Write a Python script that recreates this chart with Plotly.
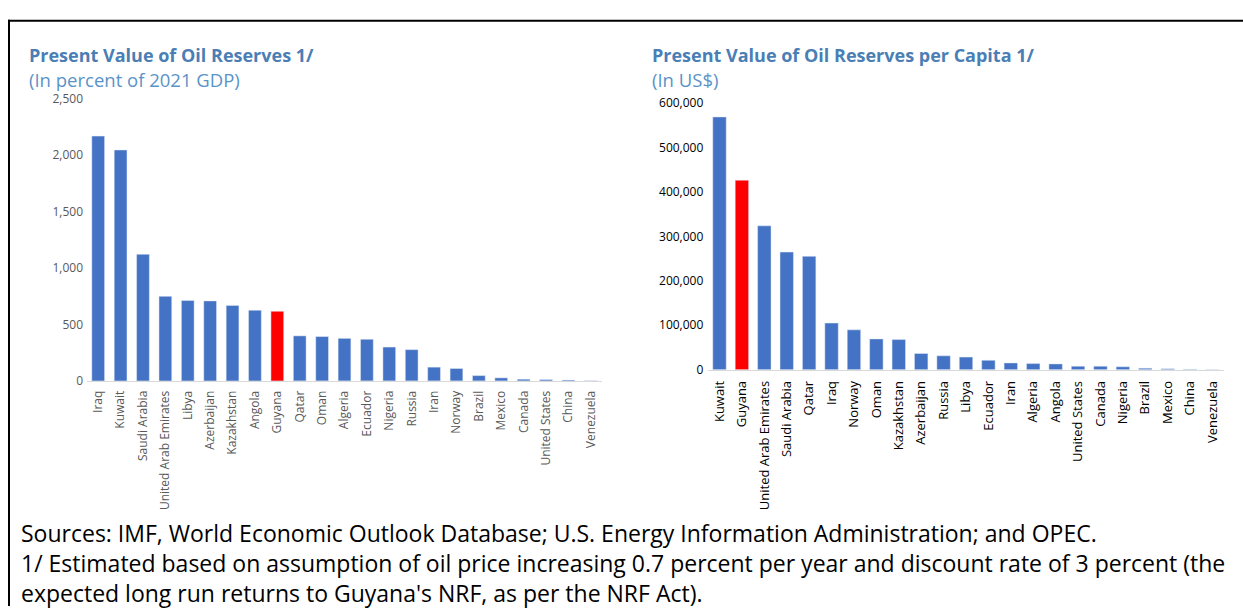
import plotly.graph_objects as go

# Present value of oil reserves, percent of 2021 GDP
gdp_countries = ["Iraq", "Kuwait", "Saudi Arabia", "United Arab Emirates", "Libya",
                 "Azerbaijan", "Kazakhstan", "Angola", "Guyana", "Qatar", "Oman",
                 "Algeria", "Ecuador", "Nigeria", "Russia", "Iran", "Norway", "Brazil",
                 "Mexico", "Canada", "United States", "China", "Venezuela"]
gdp_values = [2169, 2046, 1122, 749, 712, 709, 669, 626, 617, 399, 393,
              377, 369, 300, 277, 122, 110, 47, 27, 15, 12, 8, 2]

# Present value of oil reserves per capita, US$
pc_countries = ["Kuwait", "Guyana", "United Arab Emirates", "Saudi Arabia", "Qatar",
                "Iraq", "Norway", "Oman", "Kazakhstan", "Azerbaijan", "Russia", "Libya",
                "Ecuador", "Iran", "Algeria", "Angola", "United States", "Canada",
                "Nigeria", "Brazil", "Mexico", "China", "Venezuela"]
pc_values = [568700, 426500, 323700, 264700, 255200, 105000, 89700, 69300, 67800,
             36500, 31300, 28400, 21200, 15300, 13800, 13100, 8000, 8000, 6600,
             3600, 2200, 1000, 500]

gdp_ticks = [0, 500, 1000, 1500, 2000, 2500]
pc_ticks = [0, 100000, 200000, 300000, 400000, 500000, 600000]

BLUE = "#4472C4"
RED = "#FF0000"
HIGHLIGHT = "Guyana"

W, H = 1243, 614


def px_x(x):
    return x / W


def px_y(y):
    return 1 - y / H


fig = go.Figure()

fig.add_trace(go.Bar(
    x=gdp_countries, y=gdp_values,
    marker=dict(color=[RED if c == HIGHLIGHT else BLUE for c in gdp_countries]),
    xaxis="x", yaxis="y", width=0.57, hoverinfo="x+y",
))
fig.add_trace(go.Bar(
    x=pc_countries, y=pc_values,
    marker=dict(color=[RED if c == HIGHLIGHT else BLUE for c in pc_countries]),
    xaxis="x2", yaxis="y2", width=0.6, hoverinfo="x+y",
))

font_family = "Open Sans, Noto Sans, sans-serif"

fig.update_layout(
    width=W, height=H,
    margin=dict(l=0, r=0, t=0, b=0),
    paper_bgcolor="white", plot_bgcolor="white",
    showlegend=False,
    font=dict(family=font_family),
    xaxis=dict(
        domain=[px_x(87), px_x(602)], anchor="y",
        tickangle=-90, tickfont=dict(size=12, color="#595959"),
        showline=True, linecolor="#D9D9D9", linewidth=1,
        showgrid=False, ticks="", ticklabelstandoff=4,
    ),
    yaxis=dict(
        domain=[px_y(382.5), px_y(92.3)], anchor="x",
        range=[0, 2500], tickvals=gdp_ticks,
        tickformat=",", tickfont=dict(size=12, color="#595959"),
        showgrid=False, zeroline=False, showline=False,
        ticks="", ticklabelstandoff=3,
    ),
    xaxis2=dict(
        domain=[px_x(708.3), px_x(1223.7)], anchor="y2",
        tickangle=-90, tickfont=dict(size=13, color="#000000"),
        showline=True, linecolor="#D9D9D9", linewidth=1,
        showgrid=False, ticks="", ticklabelstandoff=5,
    ),
    yaxis2=dict(
        domain=[px_y(371), px_y(96.7)], anchor="x2",
        range=[0, 600000], tickvals=pc_ticks,
        tickformat=",", tickfont=dict(size=12, color="#000000"),
        showgrid=False, zeroline=False, showline=False,
        ticks="", ticklabelstandoff=4,
    ),
)

title_color = "#4A7EB5"
sub_color = "#5A93C8"

footer = ("Sources: IMF, World Economic Outlook Database; U.S. Energy Information Administration; and OPEC."
          "<br>1/ Estimated based on assumption of oil price increasing 0.7 percent per year and discount rate of 3 percent (the"
          "<br>expected long run returns to Guyana's NRF, as per the NRF Act).")

annotations = [
    dict(text="<b>Present Value of Oil Reserves 1/</b>", x=px_x(27), y=px_y(47),
         font=dict(size=18, color=title_color)),
    dict(text="(In percent of 2021 GDP)", x=px_x(27), y=px_y(72),
         font=dict(size=18.5, color=sub_color)),
    dict(text="<b>Present Value of Oil Reserves per Capita 1/</b>", x=px_x(650), y=px_y(47),
         font=dict(size=18, color=title_color)),
    dict(text="(In US$)", x=px_x(650), y=px_y(72),
         font=dict(size=18.5, color=sub_color)),
    dict(text=footer, x=px_x(19), y=px_y(569.5),
         font=dict(size=23, color="#000000")),
]
for a in annotations:
    a.update(xref="paper", yref="paper", xanchor="left", yanchor="middle",
             showarrow=False, align="left")
fig.update_layout(annotations=annotations)

# Frame lines along the top and left edge
fig.add_shape(type="line", xref="paper", yref="paper",
              x0=px_x(8), x1=1, y0=px_y(12), y1=px_y(12),
              line=dict(color="black", width=2))
fig.add_shape(type="line", xref="paper", yref="paper",
              x0=px_x(9), x1=px_x(9), y0=px_y(11), y1=0,
              line=dict(color="black", width=2))

fig.write_html("out.html")
